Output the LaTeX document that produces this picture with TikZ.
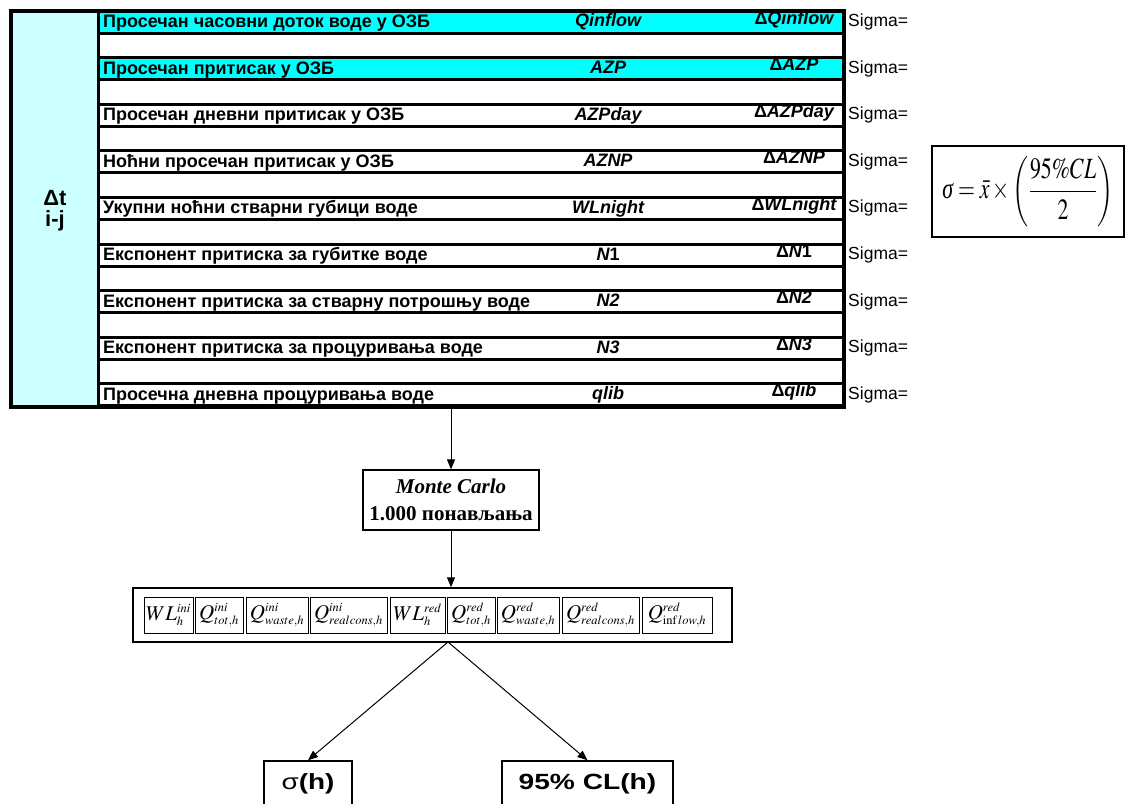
\documentclass[tikz,border=0pt]{standalone}
\usepackage{graphicx}
\usepackage{mathptmx}
\usepackage[no-math]{fontspec}
\setmainfont{Liberation Sans}
\newfontfamily\serifx{Liberation Serif}
\DeclareMathSizes{21}{21}{12.5}{9}
\usetikzlibrary{arrows.meta}
\definecolor{rowcyan}{HTML}{00FFFF}
\definecolor{colcyan}{HTML}{CCFFFF}
\tikzset{
 rowbox/.style={draw, line width=3pt, minimum width=745pt, minimum height=22pt, inner sep=0pt},
 lbl/.style={anchor=base west, font=\fontsize{18}{20}\selectfont\bfseries, inner sep=0pt},
 var/.style={anchor=base, font=\fontsize{18}{20}\selectfont\bfseries\itshape, inner sep=0pt},
 sg/.style={anchor=base west, font=\fontsize{17.5}{20}\selectfont, inner sep=0pt},
 fbx/.style={draw, line width=1pt, minimum height=36pt, inner sep=0pt, font=\fontsize{21}{23}\selectfont},
 resbox/.style={draw, line width=1.5pt, minimum height=46pt, inner sep=0pt, font=\fontsize{22}{26}\selectfont\bfseries},
 arr/.style={-{Triangle[length=10pt,width=8pt]}, line width=1pt},
}
\begin{document}
\begin{tikzpicture}[x=1pt,y=-1pt]
\useasboundingbox (0,0) rectangle (1126,803);
% left column
\node[fill=colcyan, minimum width=87.5pt, minimum height=396pt, inner sep=0pt] (col) at (54.75,209) {};
% rows
\foreach [count=\i from 0] \fc/\txt/\v/\dv in {
 rowcyan/Просечан часовни доток воде у ОЗБ/Qinflow/Qinflow,
 rowcyan/Просечан притисак у ОЗБ/AZP/AZP,
 white/Просечан дневни притисак у ОЗБ/AZPday/AZPday,
 white/Ноћни просечан притисак у ОЗБ/AZNP/AZNP,
 white/Укупни ноћни стварни губици воде/WLnight/WLnight,
 white/Експонент притиска за губитке воде/N{\upshape 1}/N{\upshape 1},
 white/Експонент притиска за стварну потрошњу воде/N2/N2,
 white/Експонент притиска за процуривања воде/N3/N3,
 white/Просечна дневна процуривања воде/qlib/qlib}{
 \pgfmathsetmacro\c{22+46.6*\i}
 \node[rowbox, fill=\fc] (row\i) at (471,\c) {};
 \node[lbl] (lbl\i) at (103,\c+5.5) {\txt};
 \node[var] (var\i) at (608,\c+5) {\v};
 \node[var] (dv\i) at (794,\c+2) {{\upshape Δ}\dv};
 \node[sg] (sg\i) at (848,\c+4.5) {Sigma=};
}
% outer frame
\node[draw, line width=4pt, minimum width=833pt, minimum height=396pt, inner sep=0pt] (outer) at (427.5,209) {};
\draw[line width=3pt] (col.north east) -- (col.south east);
\node[align=center, font=\fontsize{22}{21}\selectfont\bfseries, inner sep=0pt] (dt) at (55,211) {Δt\\i-j};
% formula
\node[draw, line width=1.2pt, minimum width=192pt, minimum height=91pt, inner sep=0pt, font=\fontsize{21}{25}\selectfont] (form) at (1028,191.5) {\scalebox{1.04}[1.4]{$\displaystyle \mbox{\serifx\itshape σ}=\bar{x}\times\left(\frac{95\%CL}{2}\right)$}};
% Monte Carlo
\node[draw, line width=1.2pt, minimum width=176pt, minimum height=60pt, inner sep=0pt, align=center, font=\serifx\bfseries\fontsize{21}{27}\selectfont] (mc) at (451,500) {{\itshape Monte Carlo}\\1.000 понављања};
% formula row
\node[draw, line width=1.5pt, minimum width=599pt, minimum height=54pt, inner sep=0pt] (frow) at (432.5,615) {};
\node[fbx, minimum width=49pt] (b1) at (168.5,615) {$WL_h^{ini}$};
\node[fbx, minimum width=48pt] (b2) at (219,615) {$Q_{tot,h}^{ini}$};
\node[fbx, minimum width=62pt] (b3) at (277,615) {$Q_{waste,h}^{ini}$};
\node[fbx, minimum width=77pt] (b4) at (348.5,615) {$Q_{realcons,h}^{ini}$};
\node[fbx, minimum width=55pt] (b5) at (417.5,615) {$WL_h^{red}$};
\node[fbx, minimum width=48pt] (b6) at (471,615) {$Q_{tot,h}^{red}$};
\node[fbx, minimum width=62pt] (b7) at (528,615) {$Q_{waste,h}^{red}$};
\node[fbx, minimum width=77pt] (b8) at (600.5,615) {$Q_{realcons,h}^{red}$};
\node[fbx, minimum width=70pt] (b9) at (677,615) {$Q_{\mathrm{inf}\,low,h}^{red}$};
% results
\node[resbox, minimum width=88pt] (sigh) at (308,784) {\scalebox{1.27}[1]{{\mdseries σ}(h)}};
\node[resbox, minimum width=171pt] (clh) at (587.5,784) {\scalebox{1.28}[1]{95\% CL(h)}};
% connectors
\coordinate (split) at (448,642);
\draw[arr] (mc.north |- outer.south) -- (mc.north);
\draw[arr] (mc.south) -- (mc.south |- frow.north);
\draw[arr] (split) -- (sigh.north);
\draw[arr] (split) -- (clh.north);
\end{tikzpicture}
\end{document}
